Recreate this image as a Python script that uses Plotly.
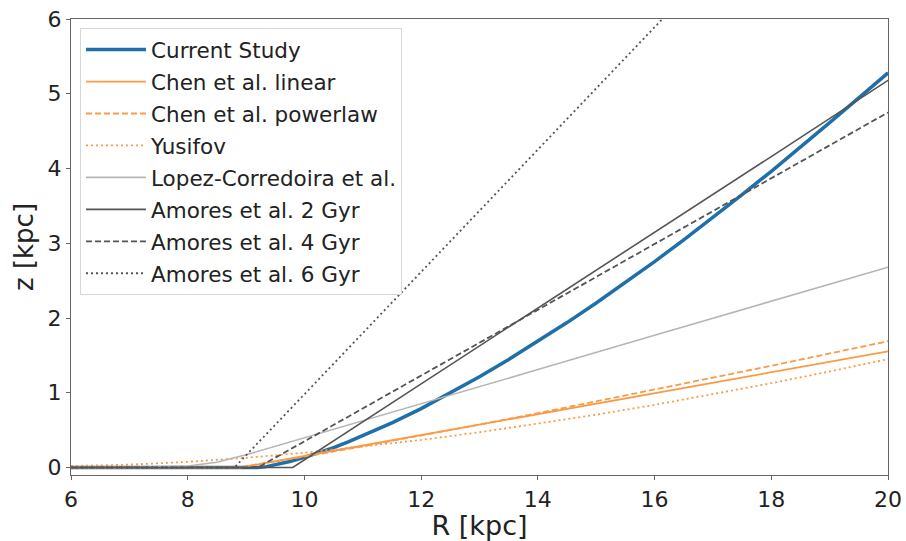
import plotly.graph_objects as go

# Galactocentric radius samples [kpc]
R_current = [6, 7, 8, 9, 9.2, 9.35, 9.5, 9.75, 10, 10.25, 10.5, 10.75, 11, 11.5, 12, 12.5, 13, 13.5, 14, 14.5, 15, 15.5, 16, 16.5, 17, 17.5, 18, 18.5, 19, 19.5, 20]
z_current = [0, 0, 0, 0, 0, 0.012, 0.034, 0.080, 0.135, 0.198, 0.267, 0.342, 0.423, 0.597, 0.788, 0.995, 1.213, 1.445, 1.686, 1.939, 2.201, 2.474, 2.755, 3.046, 3.343, 3.650, 3.963, 4.284, 4.613, 4.944, 5.28]

R_chen_lin = [6, 8.9, 10, 12, 14, 16, 18, 20]
z_chen_lin = [0, 0, 0.154, 0.434, 0.714, 0.994, 1.274, 1.554]

R_chen_pow = [6, 8.8, 9, 9.5, 10, 11, 12, 13, 14, 16, 18, 20]
z_chen_pow = [0, 0, 0.02, 0.08, 0.145, 0.284, 0.426, 0.575, 0.727, 1.039, 1.361, 1.69]

R_yusifov = [6, 7, 8, 9, 10, 11, 12, 13, 14, 15, 16, 17, 18, 19, 20]
z_yusifov = [0.02, 0.038, 0.076, 0.13, 0.198, 0.279, 0.369, 0.472, 0.585, 0.707, 0.838, 0.979, 1.128, 1.285, 1.45]

R_lopez = [6, 7, 8, 8.5, 9, 9.5, 10, 12, 14, 16, 18, 20]
z_lopez = [0, 0, 0.02, 0.07, 0.17, 0.285, 0.40, 0.86, 1.31, 1.77, 2.22, 2.68]

R_amores2 = [6, 9.8, 12, 14, 16, 18, 20]
z_amores2 = [0, 0, 1.12, 2.13, 3.15, 4.16, 5.18]

R_amores4 = [6, 9.2, 10, 12, 14, 16, 18, 20]
z_amores4 = [0, 0, 0.35, 1.23, 2.11, 2.99, 3.87, 4.75]

R_amores6 = [6, 8.8, 10, 12, 14, 16, 18, 20]
z_amores6 = [0, 0, 0.98, 2.62, 4.25, 5.89, 7.52, 9.16]

x_ticks = [6, 8, 10, 12, 14, 16, 18, 20]
y_ticks = [0, 1, 2, 3, 4, 5, 6]

BLUE = "#1f6fa8"
ORANGE = "#fb9a45"
LGREY = "#b5b5b5"
DGREY = "#555555"

series = [
    ("Current Study", R_current, z_current, BLUE, 3.5, "solid"),
    ("Chen et al. linear", R_chen_lin, z_chen_lin, ORANGE, 1.8, "solid"),
    ("Chen et al. powerlaw", R_chen_pow, z_chen_pow, ORANGE, 1.8, "6px,3px"),
    ("Yusifov", R_yusifov, z_yusifov, ORANGE, 1.8, "2px,3px"),
    ("Lopez-Corredoira et al.", R_lopez, z_lopez, LGREY, 1.6, "solid"),
    ("Amores et al. 2 Gyr", R_amores2, z_amores2, DGREY, 1.6, "solid"),
    ("Amores et al. 4 Gyr", R_amores4, z_amores4, DGREY, 1.8, "6px,3px"),
    ("Amores et al. 6 Gyr", R_amores6, z_amores6, DGREY, 1.8, "2px,3px"),
]

fig = go.Figure()
for i, (name, xs, ys, col, w, dash) in enumerate(series):
    fig.add_trace(go.Scatter(
        x=xs, y=ys, mode="lines", name=name, legendgroup=f"g{i}",
        line=dict(color=col, width=w, dash=dash),
    ))

font_family = "DejaVu Sans, sans-serif"
fig.update_layout(
    width=906, height=541,
    margin=dict(l=71, r=18, t=19, b=66),
    plot_bgcolor="white", paper_bgcolor="white",
    font=dict(family=font_family, color="#222222"),
    showlegend=True,
    legend=dict(
        x=0.011, y=0.98, xanchor="left", yanchor="top",
        bgcolor="rgba(255,255,255,0.85)", bordercolor="#d8d8d8", borderwidth=1,
        font=dict(size=21.5, family=font_family, color="#222222"),
        tracegroupgap=1, itemwidth=60,
    ),
    xaxis=dict(
        range=[6, 20], tickvals=x_ticks, ticktext=[str(v) for v in x_ticks],
        showgrid=False, zeroline=False, showline=True, mirror=True, automargin=False,
        linecolor="#666666", linewidth=1.2, ticks="outside", ticklen=4,
        tickcolor="#666666", tickfont=dict(size=22),
        title=dict(text="R [kpc]", font=dict(size=27), standoff=4),
    ),
    yaxis=dict(
        range=[-0.1, 6], tickvals=y_ticks, ticktext=[str(v) for v in y_ticks],
        showgrid=False, zeroline=False, showline=True, mirror=True, automargin=False,
        linecolor="#666666", linewidth=1.2, ticks="outside", ticklen=4,
        tickcolor="#666666", tickfont=dict(size=22),
        title=dict(text="z [kpc]", font=dict(size=26), standoff=6),
    ),
)

fig.write_html("out.html")
